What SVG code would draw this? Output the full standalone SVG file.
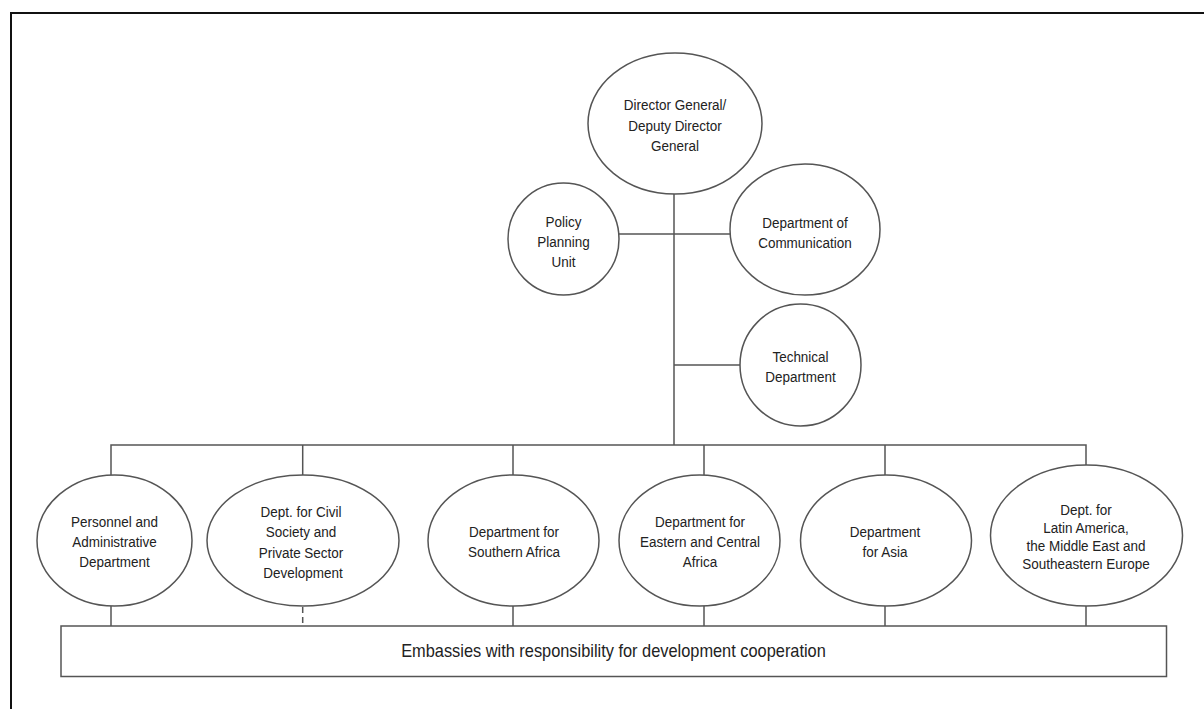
<svg xmlns="http://www.w3.org/2000/svg" width="1204" height="709" viewBox="0 0 1204 709">
<style>
.n{fill:#fff;stroke:#555;stroke-width:1.5}
.c{fill:none;stroke:#555;stroke-width:1.5}
.t{font-family:"Liberation Sans",Arial,sans-serif;font-size:15.5px;fill:#222;text-anchor:middle;dominant-baseline:central;transform-box:fill-box;transform-origin:center;transform:scaleX(0.87)}
.e{font-size:18px;transform:scaleX(0.91)}
</style>
<rect width="1204" height="709" fill="#fff"/>
<path d="M11,709 V13 H1204" fill="none" stroke="#111" stroke-width="2"/>
<g id="connectors">
<path class="c" d="M674,194 V445"/>
<path class="c" d="M619,234 H730"/>
<path class="c" d="M674,365 H740"/>
<path class="c" d="M111,475 V445 H1086 V465"/>
<path class="c" d="M302.7,445 V475 M513,445 V475 M704,445 V475 M885,445 V475"/>
<path class="c" d="M111,606 V626 M513,606 V626 M704,606 V626 M885,606 V626 M1086,606 V626"/>
<path class="c" d="M302.7,606 V626" stroke-dasharray="6,4" stroke-dashoffset="-1"/>
</g>
<g id="dg"><ellipse class="n" cx="675" cy="123.5" rx="87" ry="70.5"/>
<text class="t" x="675" y="105">Director General/</text><text class="t" x="675" y="125.5">Deputy Director</text><text class="t" x="675" y="146">General</text></g>
<g id="ppu"><ellipse class="n" cx="563.5" cy="239" rx="55.5" ry="56"/>
<text class="t" x="563.5" y="222">Policy</text><text class="t" x="563.5" y="242">Planning</text><text class="t" x="563.5" y="262">Unit</text></g>
<g id="comm"><ellipse class="n" cx="805" cy="229.5" rx="75" ry="65.5"/>
<text class="t" x="805" y="223">Department of</text><text class="t" x="805" y="243">Communication</text></g>
<g id="tech"><ellipse class="n" cx="800.5" cy="365" rx="60.5" ry="61"/>
<text class="t" x="800.5" y="357">Technical</text><text class="t" x="800.5" y="377">Department</text></g>
<g id="pers"><ellipse class="n" cx="114.5" cy="540.5" rx="77.5" ry="65.5"/>
<text class="t" x="114.5" y="522">Personnel and</text><text class="t" x="114.5" y="542">Administrative</text><text class="t" x="114.5" y="562">Department</text></g>
<g id="civil"><ellipse class="n" cx="303" cy="540.5" rx="96" ry="65.5"/>
<text class="t" x="301" y="512">Dept. for Civil</text><text class="t" x="301" y="532">Society and</text><text class="t" x="301" y="553">Private Sector</text><text class="t" x="303" y="573">Development</text></g>
<g id="south"><ellipse class="n" cx="513.5" cy="540.5" rx="85.5" ry="65.5"/>
<text class="t" x="514" y="532">Department for</text><text class="t" x="514" y="552">Southern Africa</text></g>
<g id="east"><ellipse class="n" cx="699.5" cy="540.5" rx="80.5" ry="65.5"/>
<text class="t" x="700" y="522">Department for</text><text class="t" x="700" y="542">Eastern and Central</text><text class="t" x="700" y="562">Africa</text></g>
<g id="asia"><ellipse class="n" cx="886" cy="540.5" rx="85.5" ry="65.5"/>
<text class="t" x="885" y="532">Department</text><text class="t" x="885" y="552">for Asia</text></g>
<g id="latin"><ellipse class="n" cx="1086.5" cy="535.5" rx="96" ry="70.5"/>
<text class="t" x="1086" y="510">Dept. for</text><text class="t" x="1086" y="528">Latin America,</text><text class="t" x="1086" y="546">the Middle East and</text><text class="t" x="1086" y="564">Southeastern Europe</text></g>
<g id="emb"><rect class="n" x="61" y="626" width="1105.5" height="50.5"/>
<text class="t e" x="613.5" y="651">Embassies with responsibility for development cooperation</text></g>
</svg>
